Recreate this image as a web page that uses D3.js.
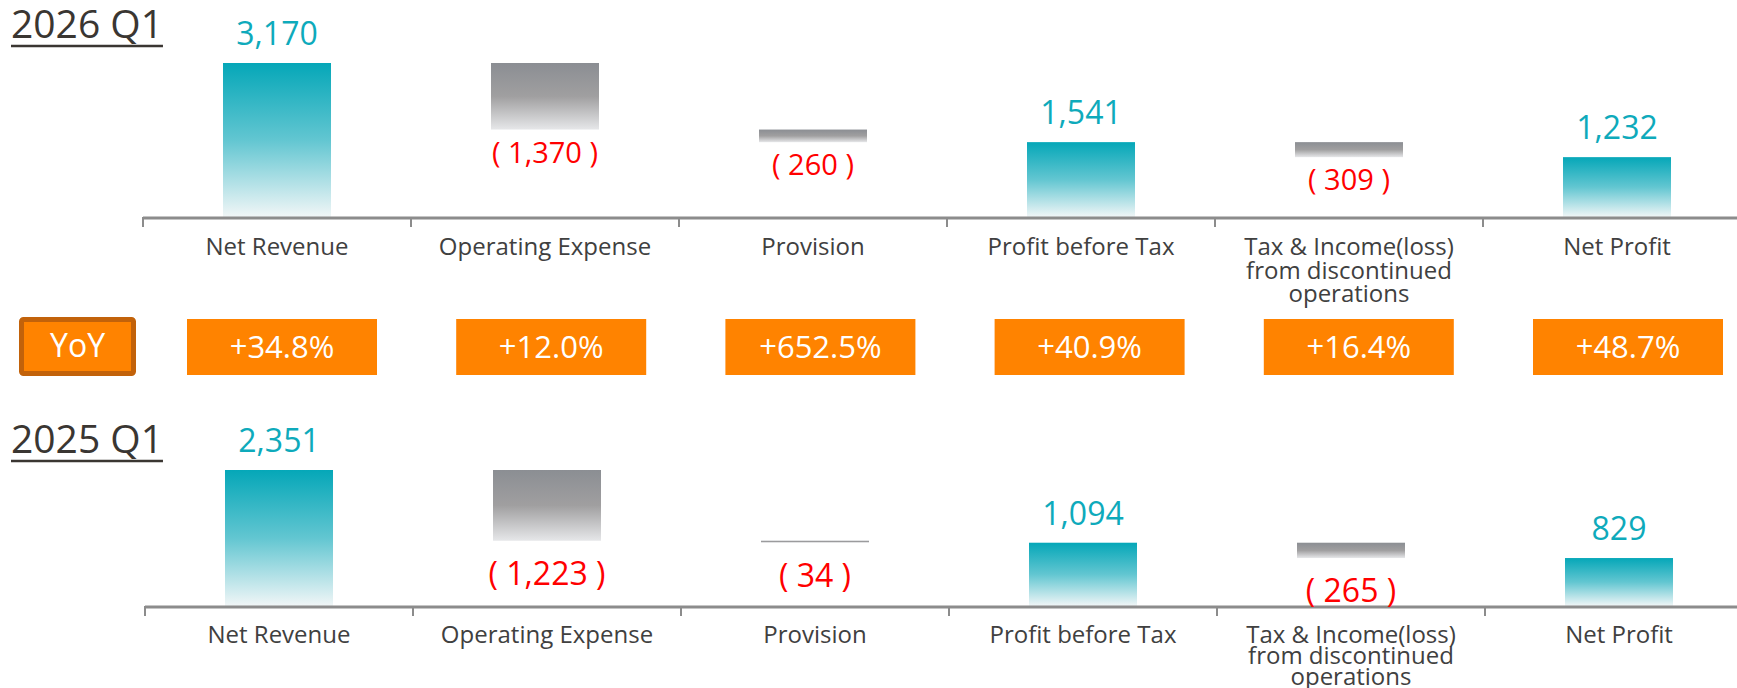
<!DOCTYPE html>
<html>
<head>
<meta charset="utf-8">
<script src="https://cdn.jsdelivr.net/npm/d3@7"></script>
<style>
  html, body { margin: 0; padding: 0; background: #ffffff; }
  svg { display: block; font-family: "Open Sans", "Noto Sans", sans-serif; }
</style>
</head>
<body>
<svg id="chart" width="1737" height="688"></svg>
<script>
// ---------- data ----------
const categories = [
  "Net Revenue",
  "Operating Expense",
  "Provision",
  "Profit before Tax",
  "Tax & Income(loss)|from discontinued|operations",
  "Net Profit"
];
const barTypes = ["total", "delta", "delta", "total", "delta", "total"];
const periods = ["2026 Q1", "2025 Q1"];
const values2026 = [3170, -1370, -260, 1541, -309, 1232];
const values2025 = [2351, -1223, -34, 1094, -265, 829];
const yoyLabel = "YoY";
const yoyValues = ["+34.8%", "+12.0%", "+652.5%", "+40.9%", "+16.4%", "+48.7%"];

// ---------- layout ----------
const W = 1737, H = 688;
const svg = d3.select("#chart");

const defs = svg.append("defs");
const tg = defs.append("linearGradient").attr("id", "tealGrad")
  .attr("x1", 0).attr("y1", 0).attr("x2", 0).attr("y2", 1);
tg.append("stop").attr("offset", "0%").attr("stop-color", "#05a7b8");
tg.append("stop").attr("offset", "50%").attr("stop-color", "#62c6d1");
tg.append("stop").attr("offset", "100%").attr("stop-color", "#f1f6f7");
const gg = defs.append("linearGradient").attr("id", "greyGrad")
  .attr("x1", 0).attr("y1", 0).attr("x2", 0).attr("y2", 1);
gg.append("stop").attr("offset", "0%").attr("stop-color", "#8b8e93");
gg.append("stop").attr("offset", "50%").attr("stop-color", "#a09fa0");
gg.append("stop").attr("offset", "100%").attr("stop-color", "#e6e7e9");

const fmt = d3.format(",");

const panels = [
  { title: periods[0], values: values2026, titleY: 38, base: 217, top: 63, x0: 143,
    negFont: 29, negOff: 33, catY: 255, lineH: 23.5 },
  { title: periods[1], values: values2025, titleY: 453, base: 606, top: 470, x0: 145,
    negFont: 32, negOff: 44, catY: 643, lineH: 21 }
];

const step = 268;

panels.forEach(p => {
  const g = svg.append("g");

  // title with underline
  const t = g.append("text")
    .attr("x", 11).attr("y", p.titleY)
    .attr("font-size", 39).attr("fill", "#3a3632")
    .text(p.title);
  const tw = t.node().getComputedTextLength();
  g.append("line")
    .attr("x1", 11).attr("x2", 11 + tw)
    .attr("y1", p.titleY + 8).attr("y2", p.titleY + 8)
    .attr("stroke", "#3a3632").attr("stroke-width", 2.5);

  // scales
  const x = d3.scaleBand()
    .domain(categories)
    .range([p.x0, p.x0 + step * categories.length])
    .paddingInner(0.597).paddingOuter(0.2985);
  const y = d3.scaleLinear()
    .domain([0, p.values[0]])
    .range([p.base, p.top]);

  // waterfall segments
  let running = 0;
  const segs = p.values.map((v, i) => {
    let a, b;
    if (barTypes[i] === "total") { a = 0; b = v; running = v; }
    else { a = running; b = running + v; running = b; }
    return { cat: categories[i], v, lo: Math.min(a, b), hi: Math.max(a, b), type: barTypes[i] };
  });

  // bars
  g.selectAll("rect.bar").data(segs).enter().append("rect")
    .attr("class", "bar")
    .attr("x", d => x(d.cat))
    .attr("width", x.bandwidth())
    .attr("y", d => y(d.hi))
    .attr("height", d => Math.max(1.5, y(d.lo) - y(d.hi)))
    .attr("fill", d => d.v >= 0 ? "url(#tealGrad)" : "url(#greyGrad)");

  // axis line & ticks at band boundaries
  g.append("line")
    .attr("x1", p.x0).attr("x2", W)
    .attr("y1", p.base + 1).attr("y2", p.base + 1)
    .attr("stroke", "#8c8c8c").attr("stroke-width", 3);
  g.selectAll("line.tick").data(categories).enter().append("line")
    .attr("class", "tick")
    .attr("x1", d => x(d) - x.step() * x.paddingOuter())
    .attr("x2", d => x(d) - x.step() * x.paddingOuter())
    .attr("y1", p.base).attr("y2", p.base + 10)
    .attr("stroke", "#8c8c8c").attr("stroke-width", 2);

  // value labels
  g.selectAll("text.val").data(segs).enter().append("text")
    .attr("class", "val")
    .attr("x", d => x(d.cat) + x.bandwidth() / 2)
    .attr("y", d => d.v >= 0 ? y(d.hi) - 18 : y(d.lo) + p.negOff)
    .attr("text-anchor", "middle")
    .attr("font-size", d => d.v >= 0 ? 32 : p.negFont)
    .attr("fill", d => d.v >= 0 ? "#0eaabb" : "#ff0000")
    .text(d => d.v >= 0 ? fmt(d.v) : "( " + fmt(-d.v) + " )");

  // category labels
  const cl = g.selectAll("text.cat").data(categories).enter().append("text")
    .attr("class", "cat")
    .attr("x", d => x(d) + x.bandwidth() / 2)
    .attr("y", p.catY)
    .attr("text-anchor", "middle")
    .attr("font-size", 24)
    .attr("fill", "#404040");
  cl.each(function(d) {
    const lines = d.split("|");
    const el = d3.select(this);
    lines.forEach((ln, k) => {
      el.append("tspan")
        .attr("x", el.attr("x"))
        .attr("dy", k === 0 ? 0 : p.lineH)
        .text(ln);
    });
  });
});

// ---------- YoY row ----------
const yoyG = svg.append("g");
yoyG.append("rect")
  .attr("x", 21.5).attr("y", 319.5).attr("width", 112).attr("height", 54)
  .attr("rx", 2).attr("fill", "#ff8300")
  .attr("stroke", "#c2620a").attr("stroke-width", 5);
yoyG.append("text")
  .attr("x", 77.5).attr("y", 357)
  .attr("text-anchor", "middle").attr("font-size", 32).attr("fill", "#ffffff")
  .text(yoyLabel);

const xp = d3.scalePoint().domain(categories).range([282, 1628]);
const boxW = 190, boxH = 56;
yoyG.selectAll("rect.yoy").data(yoyValues).enter().append("rect")
  .attr("class", "yoy")
  .attr("x", (d, i) => xp(categories[i]) - boxW / 2)
  .attr("y", 319).attr("width", boxW).attr("height", boxH)
  .attr("fill", "#ff8300");
yoyG.selectAll("text.yoy").data(yoyValues).enter().append("text")
  .attr("class", "yoy")
  .attr("x", (d, i) => xp(categories[i]))
  .attr("y", 358)
  .attr("text-anchor", "middle").attr("font-size", 31).attr("fill", "#ffffff")
  .text(d => d);
</script>
</body>
</html>
